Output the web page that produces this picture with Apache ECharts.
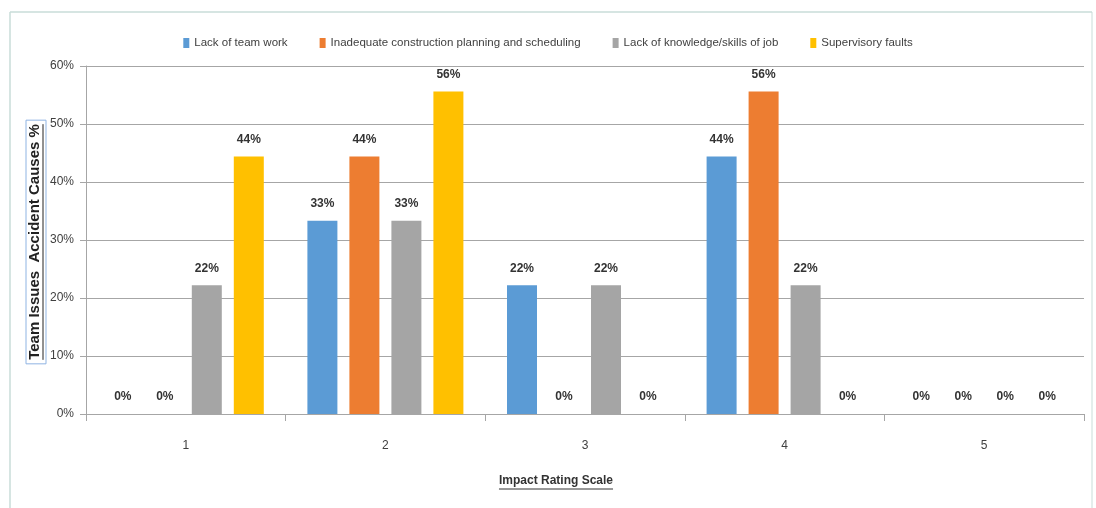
<!DOCTYPE html>
<html>
<head>
<meta charset="utf-8">
<script src="https://cdn.jsdelivr.net/npm/echarts@6/dist/echarts.min.js"></script>
<style>
html,body{margin:0;padding:0;background:#fff;}
#c{width:1096px;height:508px;}
</style>
</head>
<body>
<div id="c"></div>
<script>
const categories = ['1', '2', '3', '4', '5'];
const seriesNames = [
  'Lack of team work',
  'Inadequate construction planning and scheduling',
  'Lack of knowledge/skills of job',
  'Supervisory faults'
];
const teamWork = [0, 33.3, 22.2, 44.4, 0];
const planning = [0, 44.4, 0, 55.6, 0];
const knowledge = [22.2, 33.3, 22.2, 22.2, 0];
const supervisory = [44.4, 55.6, 0, 0, 0];
const yTicks = [0, 10, 20, 30, 40, 50, 60];
const xTitle = 'Impact Rating Scale';
const yTitle = 'Team Issues  Accident Causes %';
const colors = ['#5B9BD5', '#ED7D31', '#A5A5A5', '#FFC000'];

const FONT = '"Liberation Sans Narrow","Liberation Sans",sans-serif';
function textWidth(t, font) {
  const c = document.createElement('canvas').getContext('2d');
  c.font = font;
  return c.measureText(t).width;
}
const xtW = textWidth(xTitle, 'bold 12px ' + FONT);
const ytW = textWidth(yTitle, 'bold 15px ' + FONT);
const xtC = 556, xtY = 481;
const ytX = 35, ytC = 242;

const chart = echarts.init(document.getElementById('c'), null, {renderer: 'canvas'});
const allData = [teamWork, planning, knowledge, supervisory];

chart.setOption({
  animation: false,
  backgroundColor: '#ffffff',
  textStyle: {fontFamily: FONT},
  graphic: [
    {type: 'line', shape: {x1: 10, y1: 12, x2: 1092, y2: 12}, style: {stroke: '#c9dcd9', lineWidth: 1.5}},
    {type: 'line', shape: {x1: 10, y1: 12, x2: 10, y2: 508}, style: {stroke: '#c9dcd9', lineWidth: 1.5}},
    {type: 'line', shape: {x1: 1092, y1: 12, x2: 1092, y2: 508}, style: {stroke: '#c9dcd9', lineWidth: 1}},
    {type: 'text', x: xtC, y: xtY, style: {text: xTitle, font: 'bold 12px ' + FONT, fill: '#333', textAlign: 'center', textVerticalAlign: 'middle'}},
    {type: 'line', shape: {x1: xtC - xtW / 2, y1: xtY + 8, x2: xtC + xtW / 2, y2: xtY + 8}, style: {stroke: '#333', lineWidth: 1}},
    {type: 'text', x: ytX, y: ytC, rotation: Math.PI / 2, style: {text: yTitle, font: 'bold 15px ' + FONT, fill: '#222', textAlign: 'center', textVerticalAlign: 'middle'}},
    {type: 'line', shape: {x1: ytX + 8, y1: ytC - ytW / 2, x2: ytX + 8, y2: ytC + ytW / 2}, style: {stroke: '#222', lineWidth: 1}},
    {type: 'rect', shape: {x: ytX - 9, y: ytC - ytW / 2 - 4, width: 20, height: ytW + 8}, style: {fill: 'none', stroke: '#8fb4e3', lineWidth: 1}}
  ],
  color: colors,
  legend: {
    top: 32,
    left: 'center',
    itemWidth: 6,
    itemHeight: 10,
    itemGap: 32,
    icon: 'rect',
    textStyle: {fontFamily: FONT, fontSize: 11.5, color: '#404040'},
    data: seriesNames
  },
  grid: {left: 86, right: 12, top: 66, bottom: 94, containLabel: false},
  xAxis: {
    type: 'category',
    data: categories,
    axisLine: {show: true, lineStyle: {color: '#a6a6a6', width: 1}},
    axisTick: {show: true, length: 7, lineStyle: {color: '#a6a6a6'}},
    axisLabel: {fontFamily: FONT, fontSize: 12, color: '#404040', margin: 26}
  },
  yAxis: {
    type: 'value',
    min: 0,
    max: 60,
    interval: 10,
    axisLine: {show: true, lineStyle: {color: '#a6a6a6', width: 1}},
    axisTick: {show: true, length: 6, lineStyle: {color: '#a6a6a6'}},
    splitLine: {show: true, lineStyle: {color: '#a6a6a6', width: 1}},
    axisLabel: {
      fontFamily: FONT, fontSize: 12, color: '#404040', margin: 12,
      formatter: function (v) { return yTicks.indexOf(v) >= 0 ? v + '%' : ''; }
    }
  },
  series: seriesNames.map(function (name, i) {
    return {
      name: name,
      type: 'bar',
      data: allData[i],
      barWidth: 30,
      barGap: '40%',
      itemStyle: {color: colors[i]},
      label: {
        show: true,
        position: 'top',
        distance: 11,
        fontFamily: FONT,
        fontSize: 12,
        fontWeight: 'bold',
        color: '#333',
        formatter: function (p) { return Math.round(p.value) + '%'; }
      }
    };
  })
});
</script>
</body>
</html>
